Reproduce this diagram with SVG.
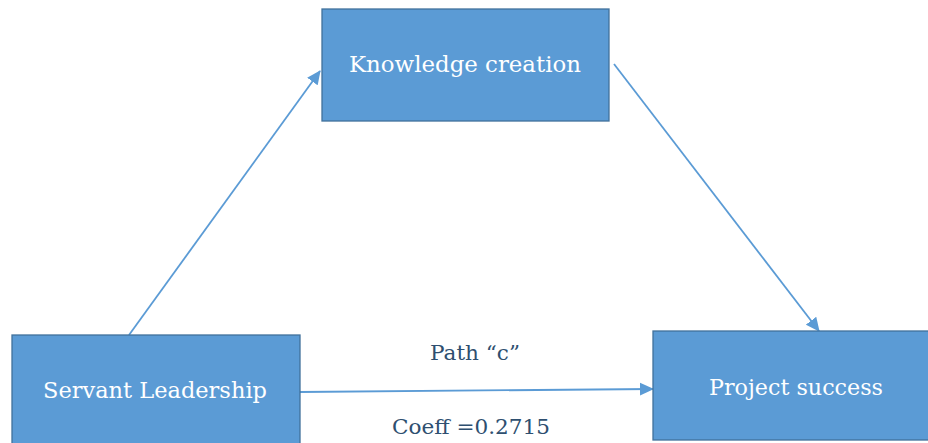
<svg xmlns="http://www.w3.org/2000/svg" width="928" height="443" viewBox="0 0 928 443">
<style>
.box{fill:#5b9bd5;stroke:#41719c;stroke-width:1.3}
.lbl{font-family:"DejaVu Serif","Liberation Serif",serif;font-size:22px;fill:#ffffff;text-anchor:middle}
.plbl{font-family:"DejaVu Serif","Liberation Serif",serif;font-size:21px;fill:#2e4f70;text-anchor:middle}
.edge{stroke:#5b9bd5;stroke-width:1.8;fill:none}
</style>
<defs>
<marker id="arrL" markerWidth="14" markerHeight="14" refX="13" refY="7" orient="auto" markerUnits="userSpaceOnUse" viewBox="0 0 14 14">
<path d="M0,0.5 L14,7 L0,13.5 z" fill="#5b9bd5"/>
</marker>
</defs>
<g id="connectors">
<line class="edge" x1="129" y1="335" x2="320" y2="71" marker-end="url(#arrL)"/>
<line class="edge" x1="614" y1="64" x2="819" y2="331" marker-end="url(#arrL)"/>
<line class="edge" x1="300" y1="392" x2="653" y2="389" marker-end="url(#arrL)"/>
</g>
<g id="knowledge">
<rect class="box" x="322" y="9" width="287" height="112"/>
<text class="lbl" x="465" y="72" textLength="232" lengthAdjust="spacingAndGlyphs">Knowledge creation</text>
</g>
<g id="servant">
<rect class="box" x="12" y="335" width="288" height="115"/>
<text class="lbl" x="155" y="398" textLength="224" lengthAdjust="spacingAndGlyphs">Servant Leadership</text>
</g>
<g id="project">
<rect class="box" x="653" y="331" width="285" height="109"/>
<text class="lbl" x="796" y="395" textLength="174" lengthAdjust="spacingAndGlyphs">Project success</text>
</g>
<g id="labels">
<text class="plbl" x="475" y="360" textLength="90" lengthAdjust="spacingAndGlyphs">Path “c”</text>
<text class="plbl" x="471" y="434" textLength="158" lengthAdjust="spacingAndGlyphs">Coeff =0.2715</text>
</g>
</svg>
